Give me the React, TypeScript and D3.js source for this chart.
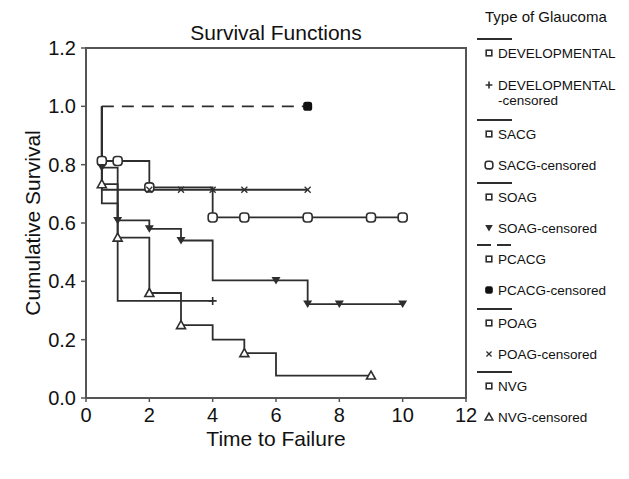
import React from 'react';
import * as d3 from 'd3';

// survival steps [time, survival] per group
const devSteps = [[0.5, 0.667], [1, 0.333]];
const devCensored = [4];
const sacgSteps = [[0.5, 0.8125], [2, 0.722], [4, 0.619]];
const sacgCensored = [0.5, 1, 2, 4, 5, 7, 9, 10];
const soagSteps = [[0.5, 0.79], [1, 0.609], [2, 0.58], [3, 0.54], [4, 0.403], [7, 0.322]];
const soagCensored = [0.5, 1, 2, 3, 6, 7, 8, 10];
const pcacgSteps: number[][] = [];
const pcacgCensored = [7];
const poagSteps = [[0.5, 0.714]];
const poagCensored = [2, 3, 4, 5, 7];
const nvgSteps = [[0.5, 0.733], [1, 0.55], [2, 0.36], [3, 0.25], [4, 0.2], [5, 0.154], [6, 0.077]];
const nvgCensored = [0.5, 1, 2, 3, 5, 9];

const xTicks = [0, 2, 4, 6, 8, 10, 12];
const yTicks = [0, 0.2, 0.4, 0.6, 0.8, 1.0, 1.2];

const groups = [
  { name: 'DEVELOPMENTAL', steps: devSteps, censored: devCensored, end: 4, marker: 'plus', dashed: false },
  { name: 'SACG', steps: sacgSteps, censored: sacgCensored, end: 10, marker: 'circle', dashed: false },
  { name: 'SOAG', steps: soagSteps, censored: soagCensored, end: 10, marker: 'tridown', dashed: false },
  { name: 'PCACG', steps: pcacgSteps, censored: pcacgCensored, end: 7, marker: 'filled', dashed: true },
  { name: 'POAG', steps: poagSteps, censored: poagCensored, end: 7, marker: 'cross', dashed: false },
  { name: 'NVG', steps: nvgSteps, censored: nvgCensored, end: 9, marker: 'triangle', dashed: false },
];

const ink = '#2e2e2e';
const font = 'Liberation Sans, Arial, Helvetica, sans-serif';

const x = d3.scaleLinear().domain([0, 12]).range([86, 466]);
const y = d3.scaleLinear().domain([0, 1.2]).range([398, 48]);

function survAt(steps: number[][], t: number) {
  let s = 1;
  steps.forEach(([st, sv]) => { if (st <= t) s = sv; });
  return s;
}

function pathFor(steps: number[][], end: number) {
  const pts: [number, number][] = [[0.5, 1]];
  let prev = 1;
  steps.forEach(([t, s]) => {
    pts.push([t, prev]);
    pts.push([t, s]);
    prev = s;
  });
  pts.push([end, prev]);
  return d3.line().x((d) => x(d[0])).y((d) => y(d[1]))(pts) || '';
}

function Marker({ kind, cx, cy, scale = 1 }: { kind: string; cx: number; cy: number; scale?: number }) {
  const r = 4.5 * scale;
  if (kind === 'plus')
    return <path d={`M${cx - 4 * scale},${cy}H${cx + 4 * scale}M${cx},${cy - 4 * scale}V${cy + 4 * scale}`} stroke={ink} strokeWidth={1.6} />;
  if (kind === 'circle')
    return <rect x={cx - r} y={cy - r} width={2 * r} height={2 * r} rx={r * 0.7} fill="white" stroke={ink} strokeWidth={1.6} />;
  if (kind === 'tridown')
    return <path d={`M${cx - 4.5 * scale},${cy - 3.5 * scale}H${cx + 4.5 * scale}L${cx},${cy + 4 * scale}Z`} fill={ink} />;
  if (kind === 'filled')
    return <rect x={cx - r} y={cy - r} width={2 * r} height={2 * r} rx={r * 0.6} fill="#111" />;
  if (kind === 'cross')
    return <path d={`M${cx - 3 * scale},${cy + 3 * scale}L${cx + 3 * scale},${cy - 3 * scale}M${cx - 3 * scale},${cy - 3 * scale}L${cx + 3 * scale},${cy + 3 * scale}`} fill="none" stroke={ink} strokeWidth={1.3} />;
  if (kind === 'triangle')
    return <path d={`M${cx - 4.5 * scale},${cy + 3.5 * scale}H${cx + 4.5 * scale}L${cx},${cy - 4.5 * scale}Z`} fill="white" stroke={ink} strokeWidth={1.6} />;
  // small square used for the plain series in the legend
  return <rect x={cx - 2.8} y={cy - 2.8} width={5.6} height={5.6} fill="white" stroke={ink} strokeWidth={1.6} />;
}

// legend row positions (line, series, censored)
const legendTops = [39, 120, 183, 245, 309, 372];

export default function App() {
  return (
    <svg width={629} height={479} style={{ position: 'absolute', left: 0, top: 0, background: 'white' }} fontFamily={font}>
      <text x={276} y={40} textAnchor="middle" fontSize={21} fill="#111">Survival Functions</text>

      {/* frame */}
      <rect x={x(0)} y={y(1.2)} width={x(12) - x(0)} height={y(0) - y(1.2)} fill="none" stroke="#555" strokeWidth={2} />

      {yTicks.map((t) => (
        <g key={'y' + t}>
          <line x1={x(0) - 5} x2={x(0)} y1={y(t)} y2={y(t)} stroke="#555" strokeWidth={1.5} />
          <text x={76} y={y(t) + 7} textAnchor="end" fontSize={20} fill="#111">{t.toFixed(1)}</text>
        </g>
      ))}
      {xTicks.map((t) => (
        <g key={'x' + t}>
          <line x1={x(t)} x2={x(t)} y1={y(0)} y2={y(0) + 4} stroke="#555" strokeWidth={1.5} />
          <text x={x(t)} y={y(0) + 24} textAnchor="middle" fontSize={20} fill="#111">{t}</text>
        </g>
      ))}
      <text x={276} y={y(0) + 48} textAnchor="middle" fontSize={21} fill="#111">Time to Failure</text>
      <text transform={`translate(40,${(y(0) + y(1.2)) / 2}) rotate(-90)`} textAnchor="middle" fontSize={21} fill="#111">Cumulative Survival</text>

      {groups.map((g) => (
        <path key={g.name} d={pathFor(g.steps, g.end)} fill="none" stroke={ink} strokeWidth={1.8}
          strokeDasharray={g.dashed ? '12,8' : undefined} />
      ))}
      {groups.map((g) =>
        g.censored.map((t, i) => (
          <Marker key={g.name + i} kind={g.marker} cx={x(t)} cy={y(survAt(g.steps, t))} />
        ))
      )}

      {/* legend */}
      <text x={485} y={22} fontSize={15} fill="#111">Type of Glaucoma</text>
      {groups.map((g, i) => {
        const top = legendTops[i];
        const cens = i === 0 ? top + 46 : top + 45;
        return (
          <g key={'lg' + g.name}>
            <line x1={477} x2={512} y1={top} y2={top} stroke={ink} strokeWidth={2}
              strokeDasharray={g.dashed ? '14,6' : undefined} />
            <Marker kind="square" cx={489} cy={top + 14} />
            <text x={498} y={top + 19} fontSize={13.5} fill="#111">{g.name}</text>
            <Marker kind={g.marker} cx={489} cy={cens} scale={0.85} />
            {i === 0 ? (
              <text fontSize={13.5} fill="#111">
                <tspan x={498} y={cens + 5}>DEVELOPMENTAL</tspan>
                <tspan x={498} y={cens + 20}>-censored</tspan>
              </text>
            ) : (
              <text x={498} y={cens + 5} fontSize={13.5} fill="#111">{g.name}-censored</text>
            )}
          </g>
        );
      })}
    </svg>
  );
}
